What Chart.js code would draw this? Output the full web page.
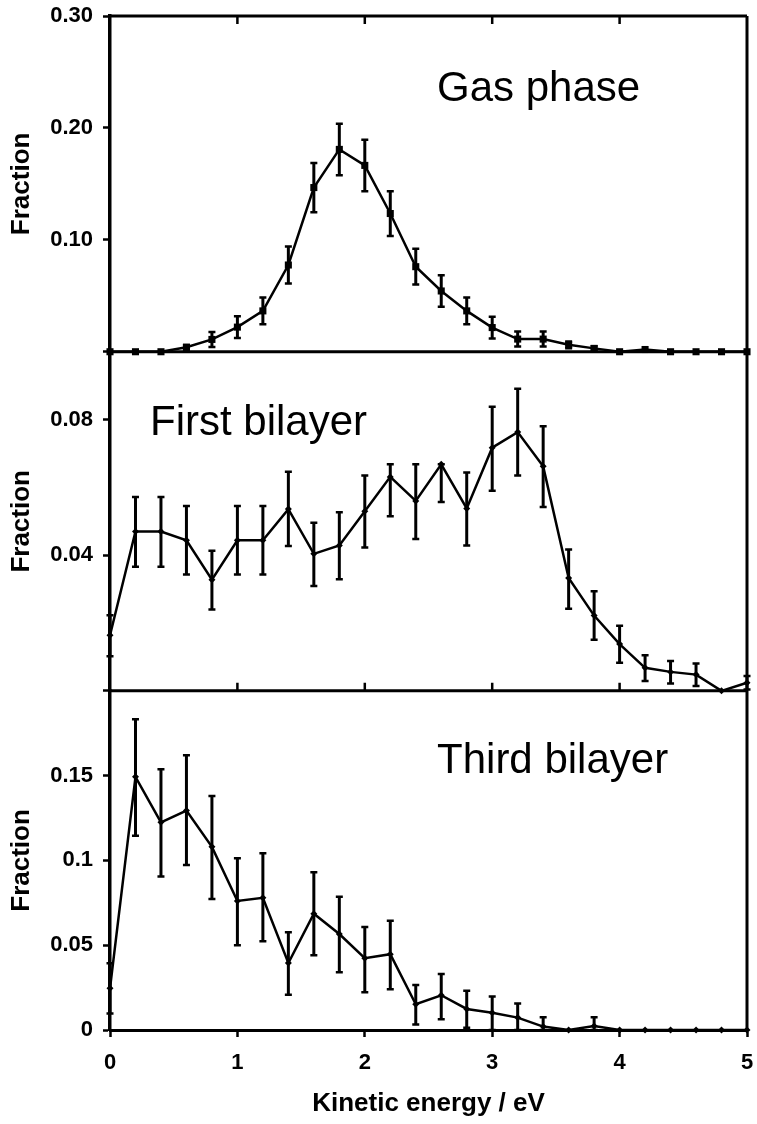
<!DOCTYPE html>
<html>
<head>
<meta charset="utf-8">
<script src="https://cdn.jsdelivr.net/npm/chart.js@4/dist/chart.umd.min.js"></script>
<style>
  body { margin: 0; background: #fff; }
  canvas { display: block; }
</style>
</head>
<body>
<canvas id="chart" width="757" height="1124"></canvas>
<script>
const energy = [0, 0.2, 0.4, 0.6, 0.8, 1.0, 1.2, 1.4, 1.6, 1.8, 2.0, 2.2, 2.4, 2.6, 2.8, 3.0, 3.2, 3.4, 3.6, 3.8, 4.0, 4.2, 4.4, 4.6, 4.8, 5.0];

// gas phase
const gasFraction = [0, 0, 0, 0.004, 0.011, 0.022, 0.0365, 0.0775, 0.1467, 0.1808, 0.1665, 0.1235, 0.076, 0.0543, 0.0365, 0.0216, 0.0113, 0.0113, 0.0062, 0.003, 0, 0.002, 0, 0, 0, 0];
const gasLow  = [null, null, null, 0.002, 0.0043, 0.0123, 0.0245, 0.061, 0.1247, 0.1578, 0.1435, 0.1035, 0.06, 0.0403, 0.0245, 0.0119, 0.0046, 0.0046, 0.0032, 0.001, null, null, null, null, null, null];
const gasHigh = [null, null, null, 0.006, 0.0177, 0.0317, 0.0485, 0.094, 0.1687, 0.2038, 0.1895, 0.1435, 0.092, 0.0683, 0.0485, 0.0313, 0.018, 0.018, 0.0092, 0.005, null, null, null, null, null, null];

// first bilayer
const firstFraction = [0.0164, 0.047, 0.047, 0.0444, 0.0328, 0.0444, 0.0444, 0.0536, 0.0404, 0.0429, 0.053, 0.0631, 0.056, 0.0668, 0.0538, 0.0717, 0.0763, 0.0662, 0.0333, 0.0222, 0.0138, 0.0068, 0.0056, 0.0048, 0, 0.0024];
const firstLow  = [0.0102, 0.0366, 0.0366, 0.0343, 0.024, 0.0343, 0.0343, 0.0427, 0.0309, 0.0329, 0.0423, 0.0515, 0.0448, 0.0557, 0.0429, 0.059, 0.0635, 0.0542, 0.0242, 0.0151, 0.0083, 0.0029, 0.0022, 0.0014, null, 0.0004];
const firstHigh = [0.0223, 0.0572, 0.0572, 0.0545, 0.0413, 0.0545, 0.0545, 0.0646, 0.0496, 0.0527, 0.0635, 0.0668, 0.0668, 0.0668, 0.0644, 0.0838, 0.0891, 0.078, 0.0417, 0.0294, 0.0192, 0.0105, 0.0088, 0.0081, null, 0.0044];

// third bilayer
const thirdFraction = [0.0246, 0.1493, 0.1225, 0.1294, 0.108, 0.0761, 0.078, 0.0395, 0.0686, 0.0566, 0.0423, 0.0447, 0.0152, 0.0205, 0.0124, 0.0102, 0.0073, 0.002, 0, 0.0024, 0, 0, 0, 0, 0, 0];
const thirdLow  = [0.0098, 0.1145, 0.0905, 0.0973, 0.0773, 0.05, 0.0523, 0.0208, 0.0441, 0.034, 0.0222, 0.024, 0.0033, 0.0063, 0.0014, 0, 0, 0, null, 0, null, null, null, null, null, null];
const thirdHigh = [0.0393, 0.1833, 0.1538, 0.162, 0.138, 0.1013, 0.1042, 0.0576, 0.093, 0.0786, 0.0608, 0.0645, 0.0265, 0.033, 0.0232, 0.0197, 0.0157, 0.0075, null, 0.0075, null, null, null, null, null, null];

const xTicks = [0, 1, 2, 3, 4, 5];
const gasTicks = [0, 0.1, 0.2, 0.3];
const gasTickLabels = ['', '0.10', '0.20', '0.30'];
const firstTicks = [0, 0.04, 0.08];
const firstTickLabels = ['', '0.04', '0.08'];
const thirdTicks = [0, 0.05, 0.1, 0.15];
const thirdTickLabels = ['0', '0.05', '0.1', '0.15'];

const panelNames = ['Gas phase', 'First bilayer', 'Third bilayer'];

Chart.defaults.font.family = '"Liberation Sans", Arial, sans-serif';
Chart.defaults.color = '#000';

const toPoints = (vals) => vals.map((v, i) => ({ x: energy[i], y: v }));

// error bars, drawn through each panel's y scale
const bars = {
  yGas: [gasLow, gasHigh],
  yFirst: [firstLow, firstHigh],
  yThird: [thirdLow, thirdHigh]
};

const errorBars = {
  id: 'errorBars',
  afterDatasetsDraw(chart) {
    const ctx = chart.ctx;
    const xs = chart.scales.x;
    ctx.save();
    ctx.strokeStyle = '#000';
    chart.data.datasets.forEach(ds => {
      const ys = chart.scales[ds.yAxisID];
      const [low, high] = bars[ds.yAxisID];
      low.forEach((lo, i) => {
        const hi = high[i];
        if (lo === null || hi === null) return;
        const px = xs.getPixelForValue(energy[i]);
        const top = ys.getPixelForValue(hi);
        const bot = ys.getPixelForValue(lo);
        ctx.lineWidth = 3;
        ctx.beginPath();
        ctx.moveTo(px, top);
        ctx.lineTo(px, bot);
        ctx.stroke();
        ctx.lineWidth = 2.5;
        ctx.beginPath();
        ctx.moveTo(px - 3.5, top); ctx.lineTo(px + 3.5, top);
        ctx.moveTo(px - 3.5, bot); ctx.lineTo(px + 3.5, bot);
        ctx.stroke();
      });
    });
    ctx.restore();
  }
};

// box around the panels, separators, inner ticks and panel names
const frame = {
  id: 'frame',
  afterDraw(chart) {
    const { ctx, chartArea: a, scales } = chart;
    const xs = scales.x;
    ctx.save();
    ctx.strokeStyle = '#000';
    ctx.lineWidth = 3;
    ctx.beginPath();
    ctx.moveTo(a.left, a.top); ctx.lineTo(a.right, a.top);
    ctx.moveTo(a.right, a.top); ctx.lineTo(a.right, a.bottom);
    ctx.moveTo(a.left, scales.yGas.bottom); ctx.lineTo(a.right, scales.yGas.bottom);
    ctx.moveTo(a.left, scales.yFirst.bottom); ctx.lineTo(a.right, scales.yFirst.bottom);
    ctx.stroke();

    ctx.lineWidth = 2.5;
    ctx.beginPath();
    [1, 2, 3, 4].forEach(v => {
      const px = xs.getPixelForValue(v);
      ctx.moveTo(px, a.top); ctx.lineTo(px, a.top + 8);
      ctx.moveTo(px, scales.yFirst.bottom); ctx.lineTo(px, scales.yFirst.bottom - 8);
    });
    ctx.stroke();

    // panel names
    const spots = [
      { axis: 'yGas', x: 2.567, y: 0.224 },
      { axis: 'yFirst', x: 0.314, y: 0.0755 },
      { axis: 'yThird', x: 2.567, y: 0.1516 }
    ];
    ctx.fillStyle = '#000';
    ctx.font = '42px "Liberation Sans", Arial, sans-serif';
    ctx.textAlign = 'left';
    ctx.textBaseline = 'alphabetic';
    spots.forEach((s, i) => {
      ctx.fillText(panelNames[i], xs.getPixelForValue(s.x), scales[s.axis].getPixelForValue(s.y));
    });
    ctx.restore();
  }
};

function yAxis(ticks, labels, max, weight, stackWeight) {
  return {
    type: 'linear',
    position: 'left',
    stack: 'panels',
    stackWeight: stackWeight,
    weight: weight,
    min: 0,
    max: max,
    afterBuildTicks: axis => { axis.ticks = ticks.map(v => ({ value: v })); },
    afterFit: axis => {
      axis.width = 110;
      axis.paddingTop = 0;
      axis.paddingBottom = 0;
    },
    ticks: {
      padding: 10,
      font: { size: 22, weight: 'bold' },
      callback: v => labels[ticks.indexOf(v)]
    },
    grid: { drawOnChartArea: false, tickLength: 7, tickWidth: 2.5, tickColor: '#000' },
    border: { color: '#000', width: 3.5 },
    title: {
      display: true,
      text: 'Fraction',
      font: { size: 26, weight: 'bold' },
      padding: { top: 6, bottom: 0 }
    }
  };
}

const lineStyle = {
  borderColor: '#000',
  backgroundColor: '#000',
  pointBackgroundColor: '#000',
  pointBorderColor: '#000',
  borderWidth: 2.5,
  tension: 0,
  clip: false
};

new Chart(document.getElementById('chart'), {
  type: 'line',
  data: {
    datasets: [
      { ...lineStyle, label: panelNames[0], yAxisID: 'yGas', data: toPoints(gasFraction), pointStyle: 'rect', pointRadius: 5, pointBorderWidth: 0 },
      { ...lineStyle, label: panelNames[1], yAxisID: 'yFirst', data: toPoints(firstFraction), pointStyle: 'rectRot', pointRadius: 3.5, pointBorderWidth: 0 },
      { ...lineStyle, label: panelNames[2], yAxisID: 'yThird', data: toPoints(thirdFraction), pointStyle: 'rectRot', pointRadius: 3.5, pointBorderWidth: 0 }
    ]
  },
  options: {
    responsive: false,
    animation: false,
    events: [],
    layout: { padding: { left: 0, right: 10, top: 16, bottom: 4 } },
    plugins: { legend: { display: false }, tooltip: { enabled: false } },
    scales: {
      x: {
        type: 'linear',
        min: 0,
        max: 5,
        afterBuildTicks: axis => { axis.ticks = xTicks.map(v => ({ value: v })); },
        afterFit: axis => {
          axis.height = 90;
          axis.paddingLeft = 0;
          axis.paddingRight = 0;
        },
        ticks: { padding: 13, font: { size: 22, weight: 'bold' }, callback: v => String(v) },
        grid: { drawOnChartArea: false, tickLength: 7, tickWidth: 2.5, tickColor: '#000' },
        border: { color: '#000', width: 3 },
        title: {
          display: true,
          text: 'Kinetic energy / eV',
          font: { size: 26, weight: 'bold' },
          padding: { top: 0, bottom: 1 }
        }
      },
      yThird: yAxis(thirdTicks, thirdTickLabels, 0.2, 1, 1),
      yFirst: yAxis(firstTicks, firstTickLabels, 0.1, 2, 1),
      yGas: yAxis(gasTicks, gasTickLabels, 0.3, 3, 0.99)
    }
  },
  plugins: [errorBars, frame]
});
</script>
</body>
</html>
